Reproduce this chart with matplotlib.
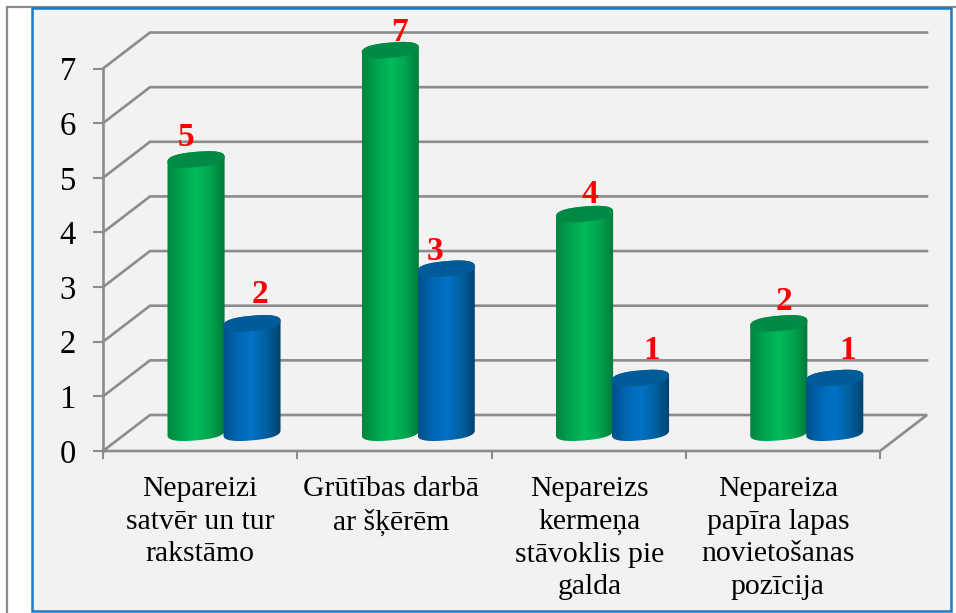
import numpy as np
import matplotlib
matplotlib.use("Agg")
import matplotlib.pyplot as plt
from matplotlib.colors import LinearSegmentedColormap
from matplotlib.patches import PathPatch, Rectangle
from matplotlib.path import Path


categories = ["Nepareizi\nsatvēr un tur\nrakstāmo",
              "Grūtības darbā\nar šķērēm",
              "Nepareizs\nkermeņa\nstāvoklis pie\ngalda",
              "Nepareiza\npapīra lapas\nnovietošanas\npozīcija"]
green_values = [5, 7, 4, 2]
blue_values = [2, 3, 1, 1]
y_ticks = [0, 1, 2, 3, 4, 5, 6, 7]

# where the value labels sit relative to the bar centre / value height, in pixels
green_label_dx = [-10, 9, 5, 5]
green_label_dy = [32, 28, 29, 32]
blue_label_dx = [8, -11, 11, 13]
blue_label_dy = [39, 27, 37, 37]
cat_label_dx = [0, -3.5, 1, -5]

W, H = 956, 613
PLOT_L, PLOT_R = 103, 880   # front floor edge, pixels
PLOT_Y0 = 451
UNIT_PX = 54.64             # pixels per value
Y_TOP = 8                   # axes reach above 7 so the tallest bar is not cut

# depth of the fake 3d box, in data units
DX = 47 / 194.25
DY = 36 / UNIT_PX
GRID = "#8c8c8c"
PANEL = "#f2f2f2"
PX = 72 / 100   # one pixel in points

plt.rcParams["font.family"] = ["Liberation Serif", "DejaVu Serif"]

green_cmap = LinearSegmentedColormap.from_list(
    "g", ["#00853f", "#00a550", "#00bb5a", "#00a54f", "#007a3a"])
blue_cmap = LinearSegmentedColormap.from_list(
    "b", ["#004f8c", "#0068b4", "#0072c6", "#00609f", "#004272"])


def rim(t):
    # slightly squarish ellipse, the reference caps look fuller than a true one
    c, s = np.cos(t), np.sin(t)
    return np.sign(c) * np.abs(c) ** 0.8, np.sign(s) * np.abs(s) ** 0.8


def cylinder(ax, cx, value, cmap, top_color):
    # half width and ellipse sizes in data units
    a = 0.147
    b = 0.14
    k = 0.045
    base = 0.335
    c, s = rim(np.linspace(0, np.pi, 40))
    # underside goes left to right, top goes right to left
    bx = cx - a * c
    by = base - b * s - k * c
    tx = cx + a * c
    ty = base + value + b * s + k * c
    verts = np.column_stack([np.r_[bx, tx], np.r_[by, ty]])
    body = PathPatch(Path(np.vstack([verts, verts[0]])), fc="none", ec="none", zorder=3)
    ax.add_patch(body)
    im = ax.imshow(np.linspace(0, 1, 64).reshape(1, -1), cmap=cmap, aspect="auto",
                   extent=[cx - a, cx + a, base - 0.2, base + value + 0.2],
                   zorder=3, interpolation="bilinear")
    im.set_clip_path(body)
    c2, s2 = rim(np.linspace(0, 2 * np.pi, 80))
    ax.fill(cx + a * c2, base + value + b * s2 + k * c2, color=top_color, lw=0, zorder=4, clip_on=False)


fig = plt.figure(figsize=(W / 100, H / 100), dpi=100, facecolor="white")

# panel and outer frame, behind the axes
fig.add_artist(Rectangle((7 / W, -0.01), 1, 1.01 - 6.5 / H, transform=fig.transFigure,
                         fc="white", ec="#8a8a8a", lw=1.6, zorder=-3))
fig.add_artist(Rectangle((32 / W, 1 - 610.5 / H), 919 / W, 602.5 / H, transform=fig.transFigure,
                         fc=PANEL, ec="#1a7ac8", lw=1.8, zorder=-2))

ax = fig.add_axes([PLOT_L / W, 1 - PLOT_Y0 / H, (PLOT_R - PLOT_L) / W, Y_TOP * UNIT_PX / H])
ax.patch.set_alpha(0)
for s in ax.spines.values():
    s.set_visible(False)

n = len(categories)
# gridlines on the back wall and the side wall
for v in y_ticks[1:]:
    ax.plot([0, DX, n + DX], [v, v + DY, v + DY], color=GRID, lw=1.9, zorder=1, clip_on=False,
            solid_joinstyle="miter")
ax.plot([0, DX, n + DX, n, 0], [0, DY, DY, 0, 0], color=GRID, lw=1.9, zorder=1, clip_on=False,
        solid_joinstyle="miter")
ax.plot([0, 0], [0, 7], color=GRID, lw=1.9, zorder=1, clip_on=False)

for i in range(n):
    cylinder(ax, i + 0.479, green_values[i], green_cmap, "#008a45")
    cylinder(ax, i + 0.767, blue_values[i], blue_cmap, "#005b99")
    ax.annotate(str(green_values[i]), (i + 0.479, green_values[i]),
                xytext=(green_label_dx[i] * PX, green_label_dy[i] * PX), textcoords="offset points",
                color="#ff0000", fontsize=24, fontweight="bold", ha="center", va="baseline",
                zorder=5, annotation_clip=False)
    ax.annotate(str(blue_values[i]), (i + 0.767, blue_values[i]),
                xytext=(blue_label_dx[i] * PX, blue_label_dy[i] * PX), textcoords="offset points",
                color="#ff0000", fontsize=24, fontweight="bold", ha="center", va="baseline",
                zorder=5, annotation_clip=False)

ax.set_xlim(0, n)
ax.set_ylim(0, Y_TOP)
ax.set_xticks(range(n + 1))
ax.set_xticklabels([])
ax.set_yticks(y_ticks)
ax.set_yticklabels([str(v) for v in y_ticks], fontsize=23.5)
ax.tick_params(axis="x", color=GRID, width=1.5, length=6)
ax.tick_params(axis="y", color=GRID, width=1.5, length=7, pad=12.5)

for i, c in enumerate(categories):
    ax.annotate(c, (i + 0.5, 0), xytext=(cat_label_dx[i] * PX, -18), textcoords="offset points",
                ha="center", va="top", fontsize=21.3, linespacing=1.33, color="black",
                annotation_clip=False)

fig.savefig("out.png", dpi=100)
